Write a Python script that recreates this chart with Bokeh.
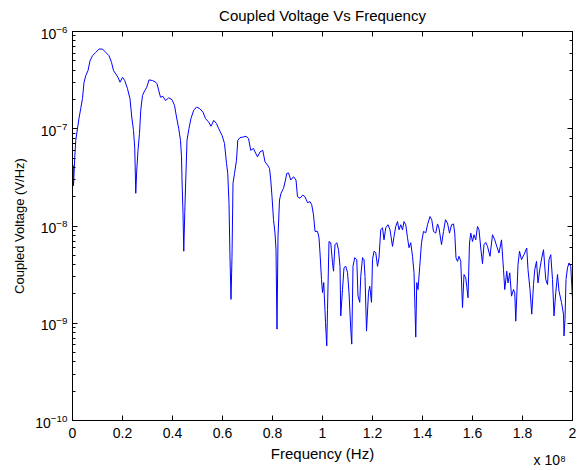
from bokeh.plotting import figure
from bokeh.models import (Range1d, LinearAxis, LogAxis, FixedTicker, LogTicker,
                          CustomLabelingPolicy)
from bokeh.embed import file_html
from bokeh.resources import INLINE

# Frequency in units of 1e8 Hz
freq_e8 = [
    0.000, 0.002, 0.004, 0.009, 0.013, 0.020, 0.026, 0.033, 0.040, 0.046,
    0.053, 0.062, 0.070, 0.080, 0.093, 0.106, 0.120, 0.133, 0.146, 0.156,
    0.164, 0.173, 0.182, 0.190, 0.200, 0.209, 0.220, 0.230, 0.237, 0.244,
    0.249, 0.253, 0.257, 0.262, 0.268, 0.273, 0.280, 0.289, 0.297, 0.306,
    0.320, 0.333, 0.338, 0.345, 0.352, 0.362, 0.372, 0.385, 0.398, 0.408,
    0.416, 0.425, 0.432, 0.436, 0.438, 0.442, 0.445, 0.449, 0.453, 0.458,
    0.466, 0.474, 0.485, 0.496, 0.509, 0.522, 0.532, 0.545, 0.554, 0.565,
    0.576, 0.585, 0.598, 0.608, 0.616, 0.621, 0.626, 0.630, 0.634, 0.638,
    0.642, 0.648, 0.656, 0.661, 0.670, 0.684, 0.694, 0.704, 0.713, 0.724,
    0.730, 0.740, 0.750, 0.761, 0.770, 0.780, 0.788, 0.793, 0.798, 0.804,
    0.810, 0.814, 0.818, 0.822, 0.828, 0.834, 0.844, 0.852, 0.857, 0.864,
    0.873, 0.884, 0.894, 0.900, 0.910, 0.921, 0.930, 0.940, 0.950, 0.957,
    0.964, 0.970, 0.980, 0.986, 0.990, 0.996, 1.000, 1.005, 1.012, 1.017,
    1.020, 1.026, 1.033, 1.040, 1.044, 1.050, 1.057, 1.064, 1.070, 1.073,
    1.080, 1.086, 1.093, 1.100, 1.106, 1.113, 1.117, 1.122, 1.129, 1.137,
    1.142, 1.149, 1.153, 1.160, 1.166, 1.170, 1.176, 1.184, 1.189, 1.196,
    1.200, 1.206, 1.213, 1.220, 1.226, 1.233, 1.240, 1.246, 1.253, 1.262,
    1.270, 1.280, 1.286, 1.293, 1.300, 1.306, 1.313, 1.320, 1.326, 1.333,
    1.340, 1.346, 1.353, 1.360, 1.366, 1.370, 1.373, 1.377, 1.382, 1.389,
    1.396, 1.404, 1.413, 1.420, 1.430, 1.437, 1.444, 1.453, 1.460, 1.466,
    1.476, 1.484, 1.492, 1.500, 1.508, 1.516, 1.524, 1.529, 1.534, 1.540,
    1.546, 1.553, 1.560, 1.566, 1.573, 1.577, 1.582, 1.588, 1.593, 1.600,
    1.606, 1.613, 1.620, 1.626, 1.633, 1.640, 1.646, 1.653, 1.660, 1.670,
    1.680, 1.689, 1.697, 1.706, 1.716, 1.724, 1.729, 1.737, 1.742, 1.749,
    1.756, 1.764, 1.769, 1.773, 1.777, 1.782, 1.788, 1.796, 1.806, 1.817,
    1.822, 1.830, 1.837, 1.844, 1.849, 1.856, 1.862, 1.870, 1.877, 1.884,
    1.893, 1.900, 1.906, 1.913, 1.920, 1.926, 1.933, 1.940, 1.946, 1.956,
    1.964, 1.966, 1.970, 1.974, 1.980, 1.986, 1.993, 2.000,
]

# Coupled voltage (V/Hz)
voltage = [
    2.5e-8, 4.2e-8, 2.6e-8, 5.1e-8, 7.6e-8, 1.01e-7, 1.28e-7, 1.62e-7, 2.05e-7, 2.99e-7,
    3.52e-7, 3.96e-7, 5.0e-7, 5.64e-7, 6.1e-7, 6.6e-7, 6.6e-7, 6.1e-7, 5.64e-7, 4.82e-7,
    3.96e-7, 3.66e-7, 3.38e-7, 3.01e-7, 3.38e-7, 3.13e-7, 2.58e-7, 2.03e-7, 1.32e-7, 9.6e-8,
    6.3e-8, 2.17e-8, 3.76e-8, 6.0e-8, 8.98e-8, 1.55e-7, 2.2e-7, 2.47e-7, 2.67e-7, 3.18e-7,
    3.13e-7, 3.01e-7, 2.9e-7, 2.47e-7, 2.11e-7, 2.15e-7, 1.95e-7, 2.08e-7, 1.99e-7, 1.74e-7,
    1.32e-7, 1.0e-7, 7.6e-8, 5.14e-8, 2.97e-8, 1.36e-8, 5.5e-9, 1.37e-8, 2.97e-8, 7.6e-8,
    1.01e-7, 1.28e-7, 1.55e-7, 1.67e-7, 1.61e-7, 1.48e-7, 1.27e-7, 1.17e-7, 1.06e-7, 1.22e-7,
    1.13e-7, 1.0e-7, 8.57e-8, 7.05e-8, 4.4e-8, 3.47e-8, 1.71e-8, 4.7e-9, 1.76e-9, 4.88e-9,
    2.75e-8, 3.47e-8, 4.75e-8, 7.6e-8, 8.1e-8, 8.24e-8, 8.37e-8, 7.93e-8, 6.0e-8, 6.27e-8,
    5.78e-8, 5.14e-8, 5.78e-8, 6.0e-8, 4.57e-8, 4.23e-8, 3.91e-8, 2.97e-8, 2.0e-8, 1.16e-8,
    8.45e-9, 5.7e-9, 8.7e-10, 7.8e-9, 1.85e-8, 2.17e-8, 2.44e-8, 2.97e-8, 3.47e-8, 3.52e-8,
    2.97e-8, 3.21e-8, 2.97e-8, 2.0e-8, 1.93e-8, 2.08e-8, 2.0e-8, 1.74e-8, 1.78e-8, 1.65e-8,
    1.30e-8, 8.8e-9, 8.8e-9, 7.57e-9, 5.28e-9, 2.82e-9, 2.07e-9, 2.62e-9, 1.02e-9, 5.85e-10,
    1.39e-9, 6.93e-9, 6.73e-9, 4.2e-9, 3.43e-9, 6.43e-9, 6.73e-9, 5.7e-9, 3.85e-9, 1.19e-9,
    2.22e-9, 3.73e-9, 3.85e-9, 3.32e-9, 2.07e-9, 8.7e-10, 6.1e-10, 3.85e-9, 4.73e-9, 4.51e-9,
    1.9e-9, 1.64e-9, 3.04e-9, 4.73e-9, 4.51e-9, 3.04e-9, 8.3e-10, 2.07e-9, 2.4e-9, 1.64e-9,
    4.51e-9, 5.5e-9, 5.32e-9, 3.85e-9, 4.73e-9, 9.15e-9, 9.6e-9, 7.2e-9, 9.6e-9, 1.03e-8,
    9.15e-9, 6.17e-9, 7.8e-9, 9.9e-9, 1.11e-8, 9.15e-9, 1.03e-8, 9.15e-9, 1.11e-8, 1.03e-8,
    7.57e-9, 5.98e-9, 6.73e-9, 4.88e-9, 3.32e-9, 1.39e-9, 7.2e-10, 2.62e-9, 2.22e-9, 3.85e-9,
    6.73e-9, 8.8e-9, 8.5e-9, 1.03e-8, 1.25e-8, 1.16e-8, 8.8e-9, 8.45e-9, 1.05e-8, 9.5e-9,
    6.43e-9, 8.8e-9, 1.16e-8, 1.07e-8, 8.45e-9, 1.03e-8, 1.05e-8, 8.45e-9, 4.7e-9, 4.33e-9,
    4.88e-9, 4.33e-9, 1.45e-9, 3.17e-9, 2.93e-9, 2.4e-9, 1.83e-9, 6.68e-9, 8.45e-9, 6.93e-9,
    8.13e-9, 7.2e-9, 9.9e-9, 9.15e-9, 5.94e-9, 4.1e-9, 6.43e-9, 6.78e-9, 6.17e-9, 4.88e-9,
    8.13e-9, 7.2e-9, 6.17e-9, 5.28e-9, 7.2e-9, 3.56e-9, 2.22e-9, 3.43e-9, 2.6e-9, 3.3e-9,
    1.9e-9, 2.22e-9, 2.06e-9, 1.05e-9, 1.9e-9, 4.0e-9, 5.5e-9, 4.51e-9, 5.07e-9, 5.94e-9,
    3.56e-9, 2.22e-9, 1.24e-9, 2.5e-9, 3.56e-9, 4.33e-9, 2.6e-9, 3.71e-9, 4.7e-9, 5.7e-9,
    2.82e-9, 2.5e-9, 4.51e-9, 5.07e-9, 2.82e-9, 1.19e-9, 2.06e-9, 3.17e-9, 2.14e-9, 1.63e-9,
    1.24e-9, 7.4e-10, 1.1e-9, 2.82e-9, 3.71e-9, 4.17e-9, 3.85e-9, 1.76e-9,
]

x_ticks = [0, 0.2, 0.4, 0.6, 0.8, 1, 1.2, 1.4, 1.6, 1.8, 2]
x_tick_labels = ["0", "0.2", "0.4", "0.6", "0.8", "1", "1.2", "1.4", "1.6", "1.8", "2"]
x_limits = (0, 2)
y_limits = (1e-10, 1e-6)

title_text = "Coupled Voltage Vs Frequency"
x_label = "Frequency (Hz)"
y_label = "Coupled Voltage (V/Hz)"
x_scale_note = "x 10\u2078"
x_scale_note_at = 1.909

FONT = "Liberation Sans"

p = figure(width=578, height=470, y_axis_type="log",
           x_range=Range1d(*x_limits), y_range=Range1d(*y_limits),
           output_backend="svg", toolbar_location=None,
           min_border_left=72, min_border_right=6, min_border_top=31, min_border_bottom=48)

p.title.text = title_text
p.title.align = "center"
p.title.text_font = FONT
p.title.text_font_size = "15px"
p.title.text_font_style = "normal"
p.title.text_color = "black"
p.title.standoff = 7

p.grid.visible = False
p.outline_line_color = "black"
p.outline_line_width = 1
p.background_fill_color = "white"
p.border_fill_color = "white"

p.line(freq_e8, voltage, line_color="#0000ff", line_width=1)

def style_axis(ax):
    ax.axis_line_color = "black"
    ax.major_tick_line_color = "black"
    ax.minor_tick_line_color = "black"
    ax.major_tick_in = 5
    ax.major_tick_out = 0
    ax.minor_tick_in = 3
    ax.minor_tick_out = 0
    ax.major_label_text_font = FONT
    ax.major_label_text_font_size = "14px"
    ax.major_label_text_color = "black"
    ax.axis_label_text_font = FONT
    ax.axis_label_text_font_size = "15px"
    ax.axis_label_text_font_style = "normal"
    ax.axis_label_text_color = "black"

def hide_labels():
    return CustomLabelingPolicy(code="""
for (const i of indices) { indices.unset(i) }
return indices
""")

xa = p.xaxis[0]
style_axis(xa)
xa.ticker = FixedTicker(ticks=x_ticks, minor_ticks=[])
xa.major_label_overrides = dict(zip(x_ticks, x_tick_labels))
xa.axis_label = x_label
xa.major_label_standoff = 7
xa.axis_label_standoff = 4

ya = p.yaxis[0]
style_axis(ya)
ya.axis_label = y_label
ya.axis_label_text_font_size = "13px"
ya.major_label_standoff = 5
ya.axis_label_standoff = 5

top_ax = LinearAxis(ticker=FixedTicker(ticks=x_ticks, minor_ticks=[]))
style_axis(top_ax)
top_ax.major_label_policy = hide_labels()
top_ax.major_label_text_font_size = "1px"
top_ax.major_label_standoff = 0
p.add_layout(top_ax, "above")

right_ax = LogAxis(ticker=LogTicker())
style_axis(right_ax)
right_ax.major_label_policy = hide_labels()
right_ax.major_label_text_font_size = "1px"
right_ax.major_label_standoff = 0
p.add_layout(right_ax, "right")

# "x 10^8" multiplier note under the right end of the x axis
note_ax = LinearAxis(ticker=FixedTicker(ticks=[x_scale_note_at], minor_ticks=[]))
style_axis(note_ax)
note_ax.axis_line_color = None
note_ax.major_tick_line_color = None
note_ax.minor_tick_line_color = None
note_ax.major_tick_in = 0
note_ax.major_label_overrides = {x_scale_note_at: x_scale_note}
note_ax.major_label_standoff = -13
p.add_layout(note_ax, "below")

open("out.html", "w").write(file_html(p, INLINE))
